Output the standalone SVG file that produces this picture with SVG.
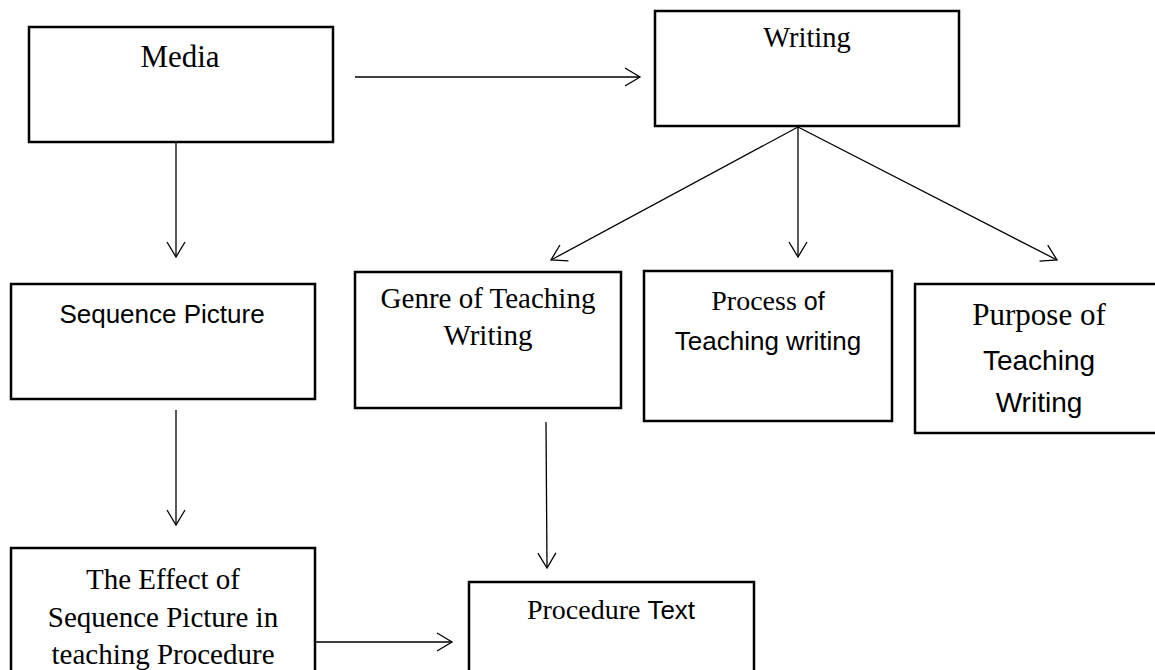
<svg xmlns="http://www.w3.org/2000/svg" width="1155" height="670" viewBox="0 0 1155 670">
<style>
.box{fill:#fff;stroke:#000;stroke-width:2.5}
.ln{fill:none;stroke:#000;stroke-width:1.3}
.t{font-family:"Liberation Serif","Times New Roman",serif;fill:#000;text-anchor:middle}
.s{font-family:"Liberation Sans",Arial,sans-serif;fill:#000;text-anchor:middle}
</style>
<defs>
<marker id="arr" markerUnits="userSpaceOnUse" markerWidth="20" markerHeight="24" refX="16" refY="10" orient="auto" viewBox="0 0 20 20" overflow="visible">
<path d="M1,1 L16,10 L1,19" fill="none" stroke="#000" stroke-width="1.3"/>
</marker>
</defs>
<rect width="1155" height="670" fill="#fff"/>
<g id="connectors">
<line class="ln" x1="355" y1="77" x2="640" y2="77" marker-end="url(#arr)"/>
<line class="ln" x1="176" y1="143" x2="176" y2="257" marker-end="url(#arr)"/>
<line class="ln" x1="798" y1="127" x2="551" y2="260" marker-end="url(#arr)"/>
<line class="ln" x1="798" y1="127" x2="798" y2="257" marker-end="url(#arr)"/>
<line class="ln" x1="798" y1="127" x2="1057" y2="260" marker-end="url(#arr)"/>
<line class="ln" x1="176" y1="410" x2="176" y2="525" marker-end="url(#arr)"/>
<line class="ln" x1="546" y1="422" x2="547" y2="568" marker-end="url(#arr)"/>
<line class="ln" x1="316" y1="642" x2="452" y2="642" marker-end="url(#arr)"/>
</g>
<g id="media">
<rect class="box" x="29" y="27" width="304" height="115"/>
<text class="t" x="180" y="67" font-size="31">Media</text>
</g>
<g id="writing">
<rect class="box" x="655" y="11" width="304" height="115"/>
<text class="t" x="807" y="47" font-size="28.5">Writing</text>
</g>
<g id="sequence">
<rect class="box" x="11" y="284" width="304" height="115"/>
<text class="s" x="162" y="323" font-size="26">Sequence Picture</text>
</g>
<g id="genre">
<rect class="box" x="355" y="272" width="266" height="136"/>
<text class="t" x="488" y="308" font-size="29">Genre of Teaching</text>
<text class="t" x="488" y="345" font-size="29">Writing</text>
</g>
<g id="process">
<rect class="box" x="644" y="271" width="248" height="150"/>
<text class="t" x="768" y="310" font-size="28">Process <tspan font-family="Liberation Sans,Arial,sans-serif" font-size="25">of</tspan></text>
<text class="s" x="768" y="350" font-size="26">Teaching writing</text>
</g>
<g id="purpose">
<rect class="box" x="915" y="284" width="245" height="149"/>
<text class="t" x="1039" y="325" font-size="31">Purpose of</text>
<text class="s" x="1039" y="370" font-size="28">Teaching</text>
<text class="s" x="1039" y="412" font-size="28">Writing</text>
</g>
<g id="effect">
<rect class="box" x="11" y="548" width="304" height="140"/>
<text class="t" x="163" y="589" font-size="29">The Effect of</text>
<text class="t" x="163" y="627" font-size="29">Sequence Picture in</text>
<text class="t" x="163" y="664" font-size="29">teaching Procedure</text>
</g>
<g id="procedure">
<rect class="box" x="469" y="582" width="285" height="110"/>
<text class="t" x="611" y="619" font-size="28">Procedure <tspan font-family="Liberation Sans,Arial,sans-serif" font-size="26">Text</tspan></text>
</g>
</svg>
